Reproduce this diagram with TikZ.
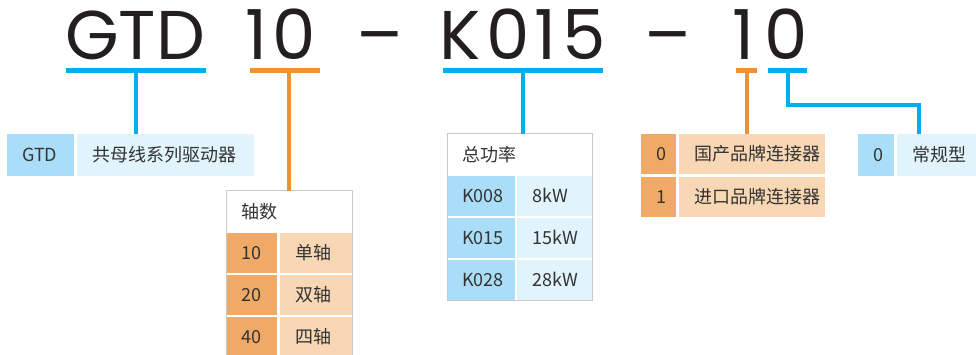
\documentclass[tikz,border=0pt]{standalone}
\usepackage{fontspec}
\usepackage{tikz}
\newfontfamily\cjk{Noto Sans CJK SC}
\newfontfamily\logo{Poppins}
\newfontfamily\logowide[LetterSpace=8]{Poppins}
\definecolor{lineblue}{RGB}{0,174,239}
\definecolor{lineorange}{RGB}{236,146,48}
\definecolor{bluedk}{RGB}{170,222,248}
\definecolor{bluelt}{RGB}{225,243,251}
\definecolor{orangedk}{RGB}{240,170,104}
\definecolor{orangelt}{RGB}{248,215,181}
\definecolor{txt}{RGB}{51,51,51}
\definecolor{ink}{RGB}{35,31,32}
\definecolor{framegray}{RGB}{200,200,200}

\tikzset{
  cell/.style={anchor=north west, inner sep=0pt, align=left, text=txt,
    text height=12pt, text depth=0pt,
    execute at begin node={\hspace*{15pt}},
    font=\cjk\fontsize{18}{18}\selectfont},
  big/.style={anchor=base west, inner sep=0pt, text=ink,
    font=\logo\fontsize{69}{69}\selectfont},
  bigwide/.style={big, font=\logowide\fontsize{69}{69}\selectfont},
  bar/.style={line width=4.5pt},
  frame/.style={draw=framegray, line width=1pt}
}

\begin{document}
\begin{tikzpicture}[x=1pt, y=-1pt]
  \useasboundingbox (0,0) rectangle (976,355);

  \node[big] (t-gtd) at (65,60) {GTD};
  \node[bigwide] (t-ax) at (245,60) {10};
  \node[big] (t-d1) at (356,60) {–};
  \node[bigwide] (t-kw) at (439,60) {K015};
  \node[big] (t-d2) at (644,60) {–};
  \node[big] (t-c1) at (732,60) {1};
  \node[big] (t-c2) at (764,60) {0};

  \node[cell, fill=bluedk, text width=67pt, minimum height=42pt] (gtd-c) at (7,134) {GTD};
  \node[cell, fill=bluelt, text width=177pt, minimum height=42pt] (gtd-d) at (77,134) {共母线系列驱动器};

  \node[cell, fill=white, text width=126pt, minimum height=42pt] (ax-h) at (226,191) {轴数};
  \node[cell, fill=orangedk, text width=51pt, minimum height=40pt] (ax-1c) at (226,233) {10};
  \node[cell, fill=orangelt, text width=72pt, minimum height=40pt] (ax-1d) at (280,233) {单轴};
  \node[cell, fill=orangedk, text width=51pt, minimum height=40pt] (ax-2c) at (226,275) {20};
  \node[cell, fill=orangelt, text width=72pt, minimum height=40pt] (ax-2d) at (280,275) {双轴};
  \node[cell, fill=orangedk, text width=51pt, minimum height=40pt] (ax-3c) at (226,317) {40};
  \node[cell, fill=orangelt, text width=72pt, minimum height=40pt] (ax-3d) at (280,317) {四轴};
  \draw[frame] (ax-h.north west) rectangle (ax-3d.south east);

  \node[cell, fill=white, text width=145pt, minimum height=42pt] (pw-h) at (447,134) {总功率};
  \node[cell, fill=bluedk, text width=68pt, minimum height=40pt] (pw-1c) at (447,176) {K008};
  \node[cell, fill=bluelt, text width=75pt, minimum height=40pt] (pw-1d) at (517,176) {8kW};
  \node[cell, fill=bluedk, text width=68pt, minimum height=40pt] (pw-2c) at (447,218) {K015};
  \node[cell, fill=bluelt, text width=75pt, minimum height=40pt] (pw-2d) at (517,218) {15kW};
  \node[cell, fill=bluedk, text width=68pt, minimum height=40pt] (pw-3c) at (447,260) {K028};
  \node[cell, fill=bluelt, text width=75pt, minimum height=40pt] (pw-3d) at (517,260) {28kW};
  \draw[frame] (pw-h.north west) rectangle (pw-3d.south east);

  \node[cell, fill=orangedk, text width=35pt, minimum height=40pt] (cn-1c) at (641,134) {0};
  \node[cell, fill=orangelt, text width=146pt, minimum height=40pt] (cn-1d) at (679,134) {国产品牌连接器};
  \node[cell, fill=orangedk, text width=35pt, minimum height=40pt] (cn-2c) at (641,177) {1};
  \node[cell, fill=orangelt, text width=146pt, minimum height=40pt] (cn-2d) at (679,177) {进口品牌连接器};

  \node[cell, fill=bluedk, text width=36pt, minimum height=42pt] (tp-c) at (858,134) {0};
  \node[cell, fill=bluelt, text width=79pt, minimum height=42pt] (tp-d) at (897,134) {常规型};

  \draw[bar, lineblue] (66,70.5) -- (206,70.5);
  \draw[bar, lineorange] (250,70.5) -- (320,70.5);
  \draw[bar, lineblue] (443,70.5) -- (603,70.5);
  \draw[bar, lineorange] (736,70.5) -- (757,70.5);
  \draw[bar, lineblue] (768,70.5) -- (807,70.5);

  \coordinate (u1) at (136,70.5);
  \coordinate (u2) at (289,70.5);
  \coordinate (u3) at (523,70.5);
  \coordinate (u4) at (747,70.5);
  \coordinate (u5) at (788,70.5);
  \coordinate (k5) at (919,105);

  \draw[bar, lineblue] (u1) -- (u1 |- gtd-d.north);
  \draw[bar, lineorange] (u2) -- (u2 |- ax-h.north);
  \draw[bar, lineblue] (u3) -- (u3 |- pw-h.north);
  \draw[bar, lineorange] (u4) -- (u4 |- cn-1d.north);
  \draw[bar, lineblue] (u5) |- (k5) -- (k5 |- tp-d.north);
\end{tikzpicture}
\end{document}
